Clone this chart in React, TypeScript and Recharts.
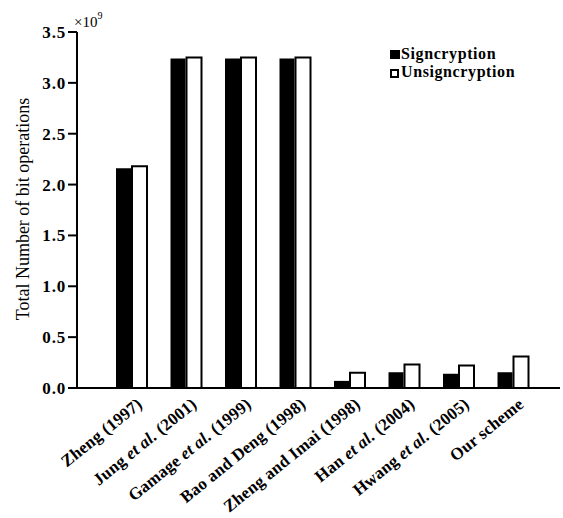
import React from "react";
import { BarChart, Bar, XAxis, YAxis } from "recharts";

const categories = [
  "Zheng (1997)",
  "Jung et al. (2001)",
  "Gamage et al. (1999)",
  "Bao and Deng (1998)",
  "Zheng and Imai (1998)",
  "Han et al. (2004)",
  "Hwang et al. (2005)",
  "Our scheme",
];
const signcryption = [2.16e9, 3.24e9, 3.24e9, 3.24e9, 0.07e9, 0.155e9, 0.14e9, 0.155e9];
const unsigncryption = [2.18e9, 3.25e9, 3.25e9, 3.25e9, 0.15e9, 0.23e9, 0.22e9, 0.31e9];
const yTicks = [0, 0.5e9, 1.0e9, 1.5e9, 2.0e9, 2.5e9, 3.0e9, 3.5e9];

const data = categories.map((name, i) => ({
  name,
  sign: signcryption[i],
  unsign: unsigncryption[i],
}));

const FONT = "Liberation Serif";

const XTick = (props: any) => {
  const { x, y, payload } = props;
  const label: string = payload.value;
  const parts = label.split("et al.");
  return (
    <g transform={`translate(${x + 12},${y + 10}) rotate(-39)`}>
      <text
        textAnchor="end"
        x={0}
        y={0}
        fontFamily={FONT}
        fontWeight="bold"
        fontSize={17}
        letterSpacing={0.2}
        fill="#000"
      >
        {parts.length > 1 ? (
          <>
            <tspan>{parts[0]}</tspan>
            <tspan fontStyle="italic">et al.</tspan>
            <tspan>{parts[1]}</tspan>
          </>
        ) : (
          label
        )}
      </text>
    </g>
  );
};

const YTick = (props: any) => {
  const { x, y, payload } = props;
  return (
    <text
      x={x}
      y={y}
      dy={6}
      textAnchor="end"
      fontFamily={FONT}
      fontWeight="bold"
      fontSize={17}
      letterSpacing={0.8}
      fill="#000"
    >
      {(payload.value / 1e9).toFixed(1)}
    </text>
  );
};

export default function App() {
  return (
    <div style={{ position: "absolute", left: 0, top: 0, width: 563, height: 518, background: "#fff" }}>
      <BarChart
        width={563}
        height={518}
        data={data}
        margin={{ top: 32, right: 3, left: 0, bottom: 0 }}
        barSize={15}
        barGap={1}
      >
        <XAxis
          dataKey="name"
          interval={0}
          tick={<XTick />}
          tickLine={false}
          axisLine={{ stroke: "#000", strokeWidth: 2 }}
          padding={{ left: 27, right: 20 }}
          height={130}
        />
        <YAxis
          width={77}
          domain={[0, 3.5e9]}
          ticks={yTicks}
          interval={0}
          axisLine={{ stroke: "#000", strokeWidth: 2 }}
          tickLine={{ stroke: "#000", strokeWidth: 2 }}
          tickSize={9}
          tickMargin={2}
          tick={<YTick />}
        />
        <Bar dataKey="sign" fill="#000" isAnimationActive={false} />
        <Bar dataKey="unsign" fill="#fff" stroke="#000" strokeWidth={2} isAnimationActive={false} />
        <text x={74} y={27} fontFamily={FONT} fontSize={15} fill="#000">
          ×10
          <tspan fontSize={10} dy={-8}>9</tspan>
        </text>
        <text
          x={0}
          y={0}
          transform="translate(29,209) rotate(-90)"
          textAnchor="middle"
          fontFamily={FONT}
          fontSize={18}
          fill="#000"
        >
          Total Number of bit operations
        </text>
        <g>
          <rect x={390} y={50} width={10} height={9} fill="#000" />
          <text x={401} y={59} fontFamily={FONT} fontWeight="bold" fontSize={16} letterSpacing={0.6} fill="#000">
            Signcryption
          </text>
          <rect x={391} y={70} width={7} height={7} fill="#fff" stroke="#000" strokeWidth={2} />
          <text x={401} y={77} fontFamily={FONT} fontWeight="bold" fontSize={16} letterSpacing={0.6} fill="#000">
            Unsigncryption
          </text>
        </g>
      </BarChart>
    </div>
  );
}
